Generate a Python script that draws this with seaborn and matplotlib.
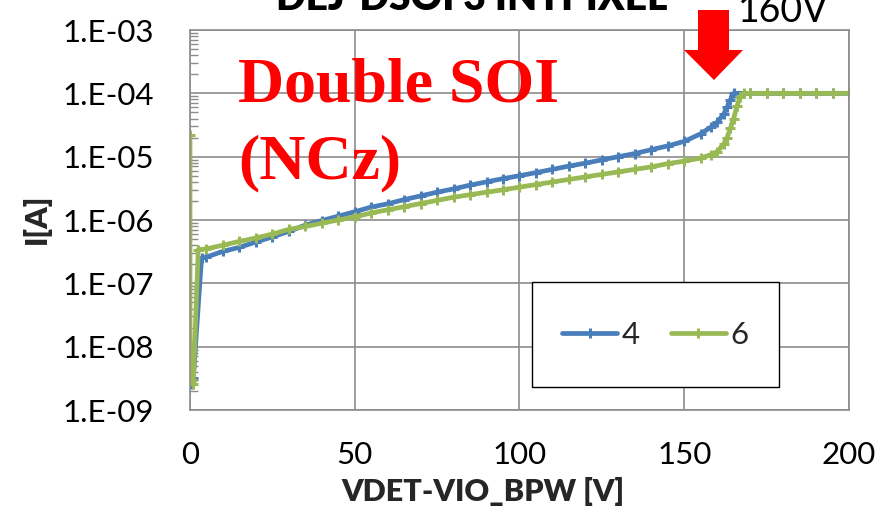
import numpy as np
import pandas as pd
import matplotlib
matplotlib.use("Agg")
import matplotlib.pyplot as plt
from matplotlib.patches import Polygon, Rectangle
from matplotlib.ticker import FixedLocator, FuncFormatter, LogLocator, NullFormatter
import seaborn as sns

# ---- measured I-V data (bias voltage [V], leakage current [A]) ----
v_4 = [0, 0.5, 1, 3.5, 5, 10, 15, 20, 25, 30, 35, 40, 45, 50, 55, 60, 65, 70,
       75, 80, 85, 90, 95, 100, 105, 110, 115, 120, 125, 130, 135, 140, 145,
       150, 155, 158, 160, 162, 163, 164, 165, 170, 175, 180, 185, 190, 195, 200]
i_4 = [3.5e-9, 2.6e-9, 3.2e-9, 2.5e-7, 2.6e-7, 3.2e-7, 3.7e-7, 4.5e-7, 5.4e-7,
       6.6e-7, 8.3e-7, 9.8e-7, 1.15e-6, 1.35e-6, 1.6e-6, 1.8e-6, 2.1e-6,
       2.4e-6, 2.75e-6, 3.1e-6, 3.55e-6, 4.0e-6, 4.5e-6, 5.0e-6, 5.6e-6,
       6.3e-6, 7.1e-6, 7.9e-6, 8.9e-6, 1.0e-5, 1.12e-5, 1.29e-5, 1.48e-5,
       1.74e-5, 2.3e-5, 2.9e-5, 3.5e-5, 4.7e-5, 6.0e-5, 7.9e-5, 1.0e-4,
       1.0e-4, 1.0e-4, 1.0e-4, 1.0e-4, 1.0e-4, 1.0e-4, 1.0e-4]

v_6 = [0, 0, 0.5, 1, 2.5, 5, 10, 15, 20, 25, 30, 35, 40, 45, 50, 55, 60, 65,
       70, 75, 80, 85, 90, 95, 100, 105, 110, 115, 120, 125, 130, 135, 140,
       145, 150, 155, 158, 160, 162, 163, 164, 165, 166, 167, 168, 170, 175,
       180, 185, 190, 195, 200]
i_6 = [2.2e-5, 4.0e-9, 3.0e-9, 2.6e-9, 3.4e-7, 3.5e-7, 4.0e-7, 4.6e-7,
       5.2e-7, 6.0e-7, 7.1e-7, 7.9e-7, 8.9e-7, 1.0e-6, 1.12e-6, 1.29e-6,
       1.45e-6, 1.62e-6, 1.82e-6, 2.04e-6, 2.29e-6, 2.51e-6, 2.75e-6, 3.0e-6,
       3.3e-6, 3.63e-6, 3.98e-6, 4.37e-6, 4.79e-6, 5.25e-6, 5.75e-6, 6.3e-6,
       6.9e-6, 7.76e-6, 8.5e-6, 9.5e-6, 1.07e-5, 1.2e-5, 1.58e-5, 2.0e-5,
       2.8e-5, 4.0e-5, 6.3e-5, 8.9e-5, 1.0e-4, 1.0e-4, 1.0e-4, 1.0e-4,
       1.0e-4, 1.0e-4, 1.0e-4, 1.0e-4]

series_names = ["4", "6"]
x_ticks = [0, 50, 100, 150, 200]
y_ticks = [1e-9, 1e-8, 1e-7, 1e-6, 1e-5, 1e-4, 1e-3]

title_text = "DEJ-DSOI 3 INTPIXEL"
annotation_lines = ["Double SOI", "(NCz)"]
arrow_label = "160V"
x_label = "VDET-VIO_BPW [V]"
y_label = "I[A]"

df = pd.concat([
    pd.DataFrame({"V": v_4, "I": i_4, "sample": series_names[0]}),
    pd.DataFrame({"V": v_6, "I": i_6, "sample": series_names[1]}),
], ignore_index=True)

blue = "#4A7EBB"
green = "#98B954"
grid_gray = "#8C8C8C"

sns.set_style("white")
plt.rcParams["font.family"] = ["Lato", "DejaVu Sans"]

W, H = 895, 509
fig = plt.figure(figsize=(W / 100, H / 100), dpi=100)
ax = fig.add_axes([190 / W, 1 - 410 / H, (849 - 190) / W, (410 - 30) / H])

# each sample drawn as one continuous curve in measurement order
for name, col in zip(series_names, [blue, green]):
    sub = df[df["sample"] == name]
    sns.lineplot(data=sub, x="V", y="I", color=col,
                 estimator=None, sort=False, ax=ax, linewidth=3.4,
                 marker="+", markersize=7, markeredgewidth=2.2,
                 markeredgecolor=col, label=name)
if ax.get_legend() is not None:
    ax.get_legend().remove()

ax.set_yscale("log")
ax.set_xlim(0, 200)
ax.set_ylim(1e-9, 1e-3)
ax.xaxis.set_major_locator(FixedLocator(x_ticks))
ax.yaxis.set_major_locator(FixedLocator(y_ticks))
ax.yaxis.set_major_formatter(
    FuncFormatter(lambda v, p: "1.E{:03d}".format(int(round(np.log10(v))))))
ax.yaxis.set_minor_locator(LogLocator(base=10, subs=np.arange(2, 10), numticks=20))
ax.yaxis.set_minor_formatter(NullFormatter())
ax.xaxis.set_minor_locator(FixedLocator([]))

ax.grid(True, which="major", color=grid_gray, linewidth=1.2)
ax.set_axisbelow(True)
for s in ax.spines.values():
    s.set_color(grid_gray)
    s.set_linewidth(1.2)

ax.tick_params(axis="x", which="major", length=0, pad=22, labelsize=22.5,
               labelcolor="black")
ax.tick_params(axis="y", which="major", direction="out", length=4,
               color=grid_gray, pad=22, labelsize=22.5, labelcolor="black")
ax.tick_params(axis="y", which="minor", direction="in", length=6,
               color=grid_gray, width=1.0, left=True)

ax.set_xlabel(x_label, fontsize=22, fontweight="heavy")
ax.set_ylabel(y_label, fontsize=22, fontweight="heavy")
ax.xaxis.set_label_coords((483 - 190) / 659, -(492 - 410) / 380)
ax.yaxis.set_label_coords(-(190 - 36) / 659, (410 - 219) / 380)
ax.xaxis.label.set_va("center")
ax.yaxis.label.set_va("center")

# legend box
lx0, ly0, lx1, ly1 = 532, 282, 779, 387
fig.patches.append(Rectangle((lx0 / W, 1 - ly1 / H), (lx1 - lx0) / W,
                             (ly1 - ly0) / H, transform=fig.transFigure,
                             facecolor="white", edgecolor="black",
                             linewidth=1.0, zorder=5))
handles = ax.get_lines()[:2]
leg = fig.legend(handles, series_names, loc="center",
                 bbox_to_anchor=((lx0 + lx1) / 2 / W, 1 - 335 / H),
                 ncol=2, frameon=False, fontsize=22.5, numpoints=1,
                 handlelength=1.75, handletextpad=0.15, columnspacing=1.0)
leg.set_zorder(6)

# red arrow marking 160 V
def px(x, y):
    return (x / W, 1 - y / H)

arrow_pts = [px(698, 10), px(729, 10), px(729, 50), px(743, 50),
             px(714, 80), px(684, 50), px(698, 50)]
fig.patches.append(Polygon(arrow_pts, closed=True, transform=fig.transFigure,
                           facecolor="#FF0000", edgecolor="none", zorder=7))
fig.text(*px(738, 22), arrow_label, fontsize=27, color="black",
         ha="left", va="baseline")

# chart title running off the top edge
fig.text(*px(472, 10), title_text, fontsize=28, fontweight="heavy",
         color="black", ha="center", va="baseline")

# red device annotation
serif = ["Liberation Serif", "DejaVu Serif"]
fig.text(*px(238, 102), annotation_lines[0], fontsize=46, fontweight="bold",
         color="#FF0000", family=serif, ha="left", va="baseline")
fig.text(*px(238, 178), annotation_lines[1], fontsize=46, fontweight="bold",
         color="#FF0000", family=serif, ha="left", va="baseline")

fig.savefig("out.png", dpi=100)
